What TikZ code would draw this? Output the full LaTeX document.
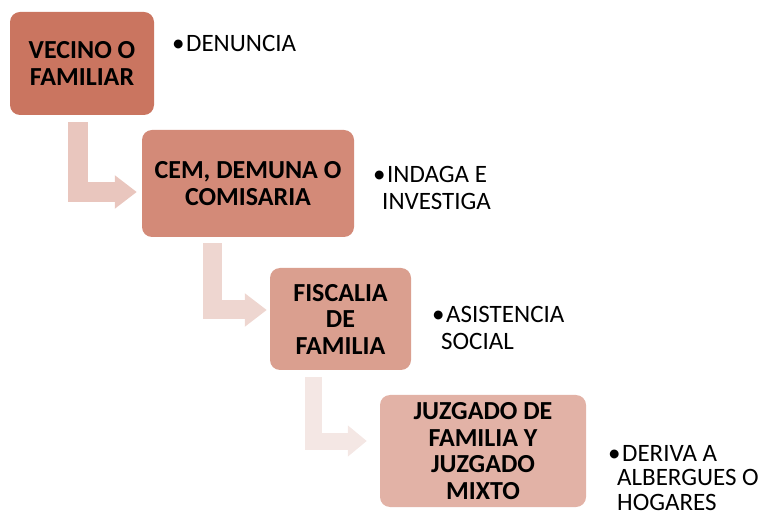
\documentclass[tikz,border=0pt]{standalone}
\usepackage{fontspec}
\setmainfont{Carlito}
\usetikzlibrary{arrows.meta}
\definecolor{boxa}{RGB}{202, 117, 96}
\definecolor{boxb}{RGB}{211, 138, 120}
\definecolor{boxc}{RGB}{218, 159, 143}
\definecolor{boxd}{RGB}{226, 178, 166}
\definecolor{arra}{RGB}{233, 198, 190}
\definecolor{arrb}{RGB}{238, 214, 208}
\definecolor{arrc}{RGB}{244, 231, 228}

\begin{document}
\begin{tikzpicture}[x=1pt, y=1pt]
    \tikzstyle{stepbox} = [rectangle, draw=none, inner sep=0pt, align=center,
    rounded corners=10pt, font=\fontsize{26}{26.5}\selectfont\bfseries];
    \tikzstyle{bullet} = [anchor=base west, inner sep=0pt, align=left,
    font=\fontsize{25}{27}\selectfont];
    \tikzstyle{larrow} = [draw, line width=20pt, -{Triangle[width=32pt, length=22pt]}];
    \useasboundingbox (0,0) rectangle (763,517);

    % boxes
    \node [stepbox, fill=boxa, minimum width=144pt, minimum height=103pt] (vecino) at (82,453.5)
      {VECINO O\\FAMILIAR};
    \node [stepbox, fill=boxb, minimum width=212pt, minimum height=107pt] (cem) at (248,333.5)
      {CEM, DEMUNA O\\COMISARIA};
    \node [stepbox, fill=boxc, minimum width=141pt, minimum height=102pt] (fiscalia) at (340.5,198)
      {FISCALIA\\DE\\FAMILIA};
    \node [stepbox, fill=boxd, minimum width=206pt, minimum height=112pt] (juzgado) at (483,66)
      {JUZGADO DE\\FAMILIA Y\\JUZGADO\\MIXTO};

    % bullets (base = last line)
    \node [bullet] (denuncia) at (172,465) {\textbullet\kern1.5pt DENUNCIA};
    \node [bullet] (indaga) at (373,307) {\textbullet\kern1.5pt INDAGA E\\\hspace*{9pt}INVESTIGA};
    \node [bullet] (asistencia) at (432,167) {\textbullet\kern1.5pt ASISTENCIA\\\hspace*{9pt}SOCIAL};
    \node [bullet, font=\fontsize{25}{24.5}\selectfont] (deriva) at (608,7)
      {\textbullet\kern1.5pt DERIVA A\\\hspace*{9pt}ALBERGUES O\\\hspace*{9pt}HOGARES};

    % arrows
    \draw [larrow, draw=arra] ([xshift=-4pt, yshift=-7pt]vecino.south) |- ([xshift=-5pt, yshift=-8.5pt]cem.west);
    \draw [larrow, draw=arrb, line width=19pt] ([xshift=-35.5pt, yshift=-6pt]cem.south) |- ([xshift=-3pt, yshift=9pt]fiscalia.west);
    \draw [larrow, draw=arrc, line width=17pt, -{Triangle[width=30pt, length=19pt]}] ([xshift=-27pt, yshift=-7pt]fiscalia.south) |- ([xshift=-13pt, yshift=10pt]juzgado.west);
\end{tikzpicture}
\end{document}
